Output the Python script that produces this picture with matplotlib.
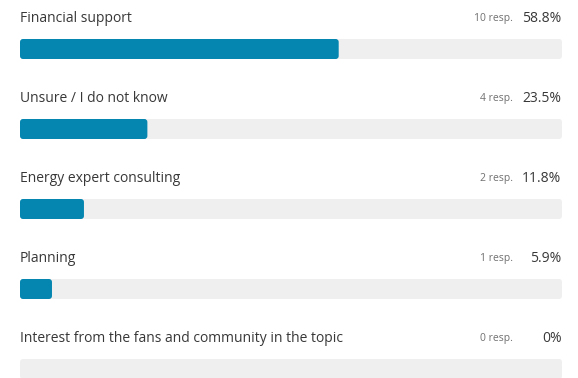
import matplotlib.pyplot as plt
from matplotlib.patches import FancyBboxPatch

labels = ["Financial support", "Unsure / I do not know", "Energy expert consulting",
          "Planning", "Interest from the fans and community in the topic"]
responses = [10, 4, 2, 1, 0]
percents = [58.8, 23.5, 11.8, 5.9, 0.0]
pct_labels = ["58.8%", "23.5%", "11.8%", "5.9%", "0%"]

blue = "#0586b0"
track = "#efefef"
text_col = "#383838"

plt.rcParams['font.family'] = ['Open Sans', 'DejaVu Sans']

fig = plt.figure(figsize=(5.78, 3.78), dpi=100)
ax = fig.add_axes([20 / 578, 0, 542 / 578, 1])
ax.set_xlim(0, 100)
# one row every 80 px, first bar centred 49 px from the top
ax.set_ylim((378 - 49) / 80, -49 / 80)
ax.axis("off")

bar_h = 20 / 80
px_x = 542 / 100
rad = 3 / px_x
aspect = px_x / 80

def rounded_bar(y, width, color):
    if width <= 0:
        return
    ax.add_patch(FancyBboxPatch((0, y - bar_h / 2), width, bar_h,
                                boxstyle=f"round,pad=0,rounding_size={rad}",
                                mutation_aspect=aspect, fc=color, ec="none"))

for i, (lab, n, p, pl) in enumerate(zip(labels, responses, percents, pct_labels)):
    rounded_bar(i, 100, track)
    rounded_bar(i, p, blue)
    ty = i - 30 / 80
    ax.text(0, ty, lab, fontsize=10, color=text_col, va="center", ha="left")
    ax.text(100 - 0.1, ty, pl, fontsize=10, color=text_col, va="center", ha="right")
    ax.text(100 - 9.0, ty, f"{n} resp.", fontsize=7.5, color="#707070",
            va="center", ha="right")

fig.savefig("out.png", dpi=100)
